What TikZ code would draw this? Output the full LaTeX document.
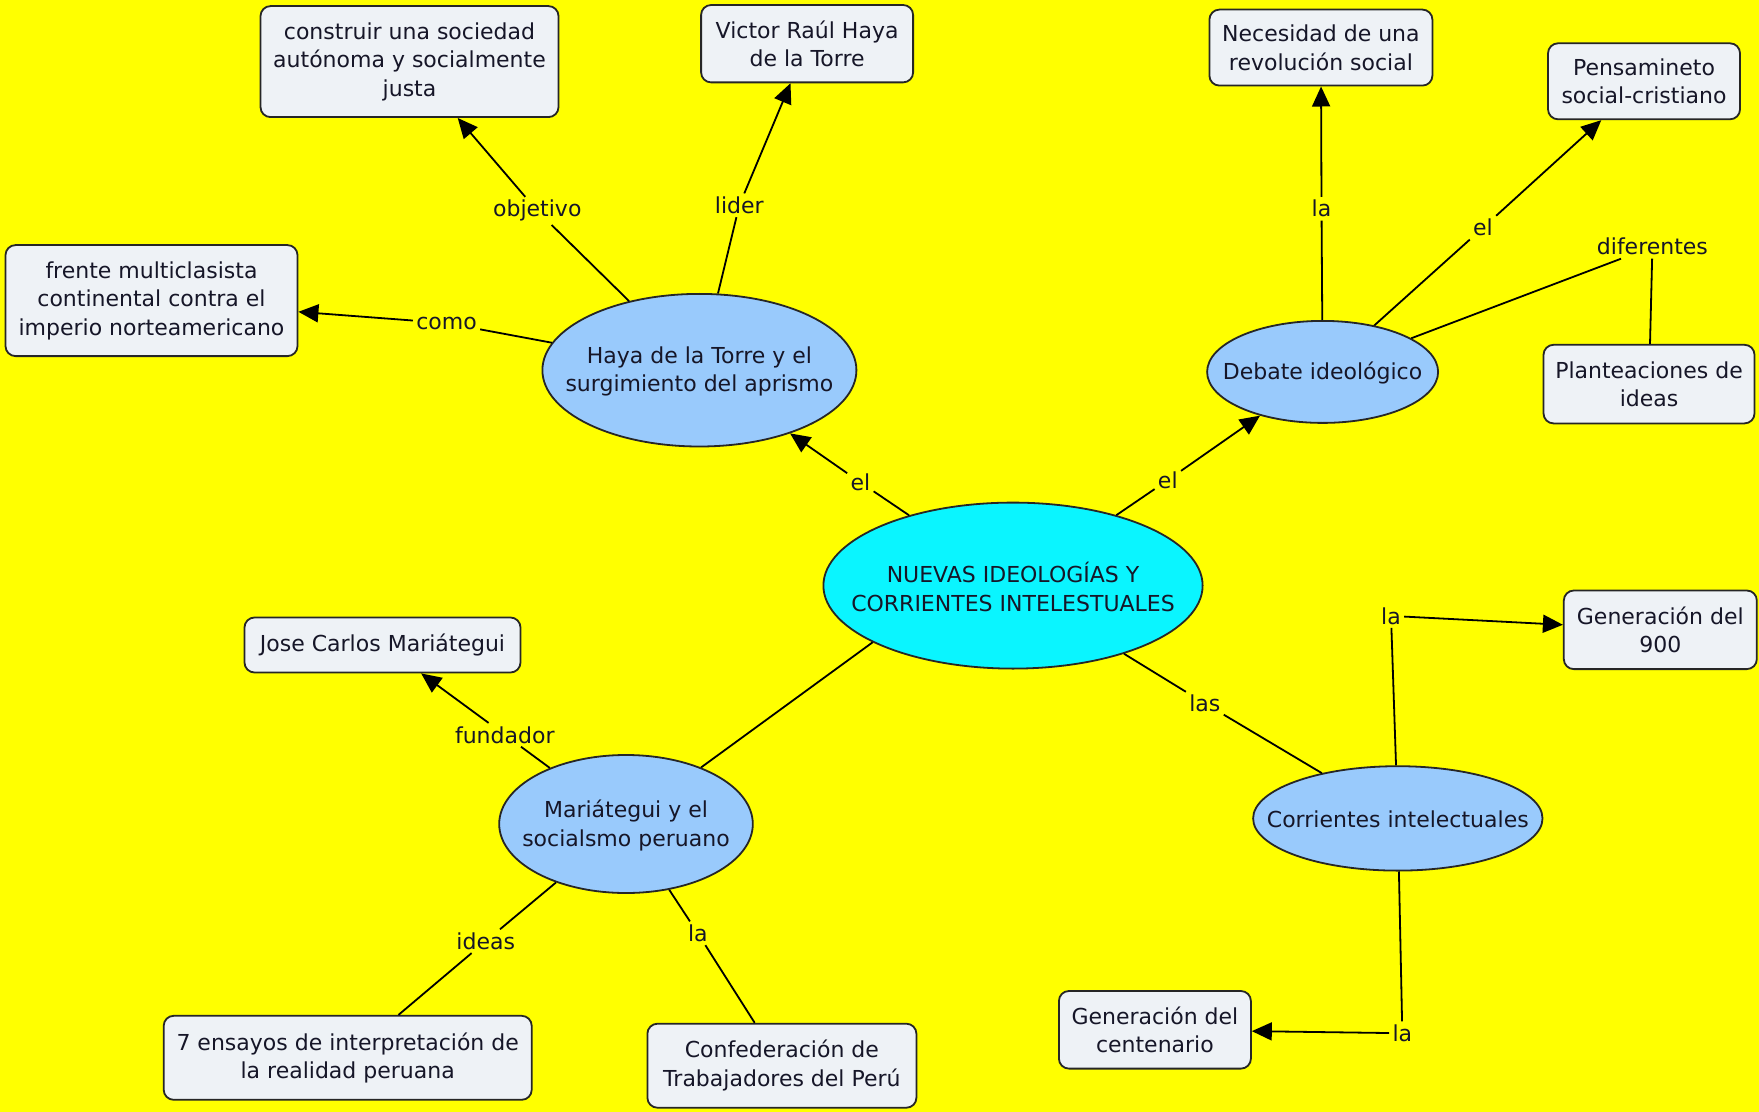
\documentclass[tikz,border=0pt]{standalone}
\usepackage{fontspec}
\setmainfont{DejaVu Sans}
\usetikzlibrary{shapes.geometric,arrows.meta}
\definecolor{bg}{RGB}{255,255,0}
\definecolor{boxfill}{RGB}{238,242,246}
\definecolor{ellfill}{RGB}{153,202,252}
\definecolor{mainfill}{RGB}{10,245,255}
\definecolor{ink}{RGB}{22,22,40}
\begin{document}
\begin{tikzpicture}[x=0.5pt,y=-0.5pt,
  every node/.style={font=\fontsize{11}{14.3}\selectfont, text=ink},
  concept/.style={draw=black!85, line width=0.9pt, fill=boxfill, rounded corners=5pt, align=center, inner sep=0pt},
  oval/.style={ellipse, draw=black!85, line width=0.9pt, fill=ellfill, inner sep=0pt},
  ovaltext/.style={align=center, inner sep=0pt},
  lbl/.style={inner sep=1.5pt},
  link/.style={line width=0.9pt, draw=black},
  arr/.style={link, -{Triangle[length=10pt,width=9pt]}}
]
\fill[bg] (0,0) rectangle (1759,1112);
\useasboundingbox (0,0) rectangle (1759,1112);

% concepts (boxes)
\node[concept, minimum width=149pt, minimum height=55.5pt] (b1) at (409.5,61.6) {construir una sociedad\\autónoma y socialmente\\justa};
\node[concept, minimum width=106pt, minimum height=38.7pt] (b2) at (807.1,43.7) {Victor Raúl Haya\\de la Torre};
\node[concept, minimum width=146pt, minimum height=55.5pt] (b3) at (151.5,300.6) {frente multiclasista\\continental contra el\\imperio norteamericano};
\node[concept, minimum width=111.5pt, minimum height=38pt] (b4) at (1320.9,47.6) {Necesidad de una\\revolución social};
\node[concept, minimum width=96pt, minimum height=38pt] (b5) at (1644,81.3) {Pensamineto\\social-cristiano};
\node[concept, minimum width=105.5pt, minimum height=39.3pt] (b6) at (1649,384.1) {Planteaciones de\\ideas};
\node[concept, minimum width=138pt, minimum height=27.5pt] (b7) at (382.5,645) {Jose Carlos Mariátegui};
\node[concept, minimum width=96.5pt, minimum height=39.3pt] (b8) at (1660.3,629.8) {Generación del\\900};
\node[concept, minimum width=96pt, minimum height=38.8pt] (b9) at (1154.9,1029.8) {Generación del\\centenario};
\node[concept, minimum width=184pt, minimum height=42pt] (b10) at (347.7,1057.8) {7 ensayos de interpretación de\\la realidad peruana};
\node[concept, minimum width=134.5pt, minimum height=42pt] (b11) at (781.9,1065.7) {Confederación de\\Trabajadores del Perú};

% ellipses
\node[oval, fill=mainfill, minimum width=189.6pt, minimum height=83pt] (e0) at (1013,585.6) {};
\node[ovaltext] (t0) at (1013,587) {NUEVAS IDEOLOGÍAS Y\\CORRIENTES INTELESTUALES};
\node[oval, minimum width=157pt, minimum height=76.3pt] (e1) at (699.4,370.2) {};
\node[ovaltext] (t1) at (699.4,371.5) {Haya de la Torre y el\\surgimiento del aprismo};
\node[oval, minimum width=115.5pt, minimum height=51pt] (e2) at (1322.6,371.9) {};
\node[ovaltext] (t2) at (1322.6,373) {Debate ideológico};
\node[oval, minimum width=126.8pt, minimum height=69pt] (e3) at (626,824) {};
\node[ovaltext] (t3) at (626,825.5) {Mariátegui y el\\socialsmo peruano};
\node[oval, minimum width=144.7pt, minimum height=52.2pt] (e4) at (1397.8,818.4) {};
\node[ovaltext] (t4) at (1397.8,819.5) {Corrientes intelectuales};

% linking phrases
\node[lbl] (lobj) at (537.3,210.9) {objetivo};
\node[lbl] (llid) at (739.3,205.3) {lider};
\node[lbl] (lcomo) at (446.5,323.1) {como};
\node[lbl] (lel1) at (860.4,482.4) {el};
\node[lbl] (lel2) at (1167.8,480.1) {el};
\node[lbl] (lla1) at (1321.5,208.7) {la};
\node[lbl] (lel3) at (1483.0,227.7) {el};
\node[lbl] (ldif) at (1652.4,246.8) {diferentes};
\node[lbl] (lfund) at (504.8,734.8) {fundador};
\node[lbl] (llas) at (1204.8,703.4) {las};
\node[lbl] (lla2) at (1391.0,615.9) {la};
\node[lbl] (lla3) at (1402.3,1033.2) {la};
\node[lbl] (lideas) at (485.7,941.2) {ideas};
\node[lbl] (lla4) at (697.8,933.3) {la};

% connectors
\draw[link] (e1) -- (lobj);  \draw[arr] (lobj) -- (b1);
\draw[link] (e1) -- (llid);  \draw[arr] (llid) -- (b2);
\draw[link] (e1) -- (lcomo); \draw[arr] (lcomo) -- (b3);
\draw[link] (e0) -- (lel1);  \draw[arr] (lel1) -- (e1);
\draw[link] (e0) -- (lel2);  \draw[arr] (lel2) -- (e2);
\draw[link] (e2) -- (lla1);  \draw[arr] (lla1) -- (b4);
\draw[link] (e2) -- (lel3);  \draw[arr] (lel3) -- (b5);
\draw[link] (e2) -- (ldif);  \draw[link] (ldif) -- (b6);
\draw[link] (e0.202.3) -- (e3.37.5);
\draw[link] (e3) -- (lfund); \draw[arr] (lfund) -- (b7);
\draw[link] (e0) -- (llas);  \draw[link] (llas) -- (e4);
\draw[link] (e4) -- (lla2);  \draw[arr] (lla2) -- (b8);
\draw[link] (e4) -- (lla3);  \draw[arr] (lla3) -- (b9);
\draw[link] (e3) -- (lideas); \draw[link] (lideas) -- (b10);
\draw[link] (e3) -- (lla4);  \draw[link] (lla4) -- (b11);
\end{tikzpicture}
\end{document}
